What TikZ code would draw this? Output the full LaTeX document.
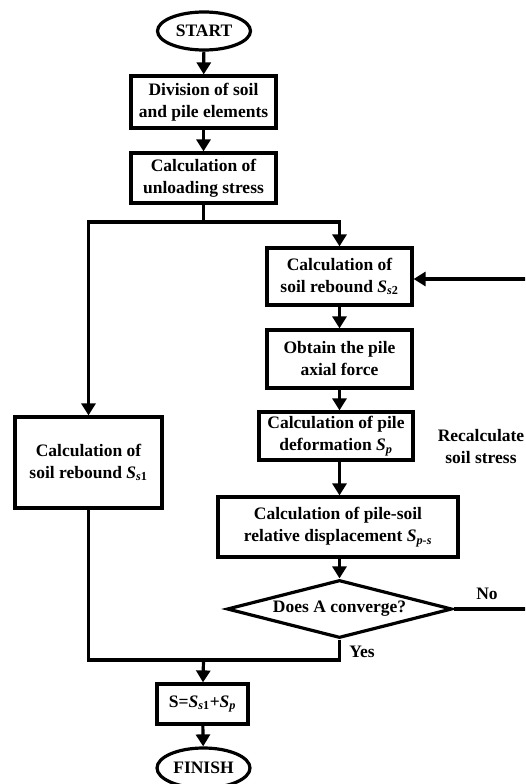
\documentclass[tikz,border=0pt]{standalone}
\usepackage{fontspec}
\setmainfont{Liberation Serif}
\usetikzlibrary{shapes.geometric,arrows.meta}
\newcommand\flowfont{\bfseries\fontsize{17.5}{22}\selectfont}
\begin{document}
\begin{tikzpicture}[x=1pt,y=-1pt,
  box/.style={draw,line width=3.2pt,rectangle,align=center,inner sep=0pt,font=\flowfont},
  term/.style={draw,line width=3.2pt,ellipse,inner sep=0pt,font=\flowfont},
  dec/.style={draw,line width=3.2pt,diamond,aspect=3.88,inner sep=0pt,font=\flowfont},
  lbl/.style={font=\flowfont,align=center,inner sep=0pt},
  conn/.style={line width=3.2pt},
  arr/.style={conn,-{Triangle[width=14pt,length=12pt]}}]
\useasboundingbox (0,0) rectangle (525,784);
\clip (0,0) rectangle (525,784);
\node[term,minimum width=93pt,minimum height=38pt] (start) at (204,31) {START};
\node[box,minimum width=145pt,minimum height=52pt] (div) at (203.5,102) {Division of soil\\and pile elements};
\node[box,minimum width=145pt,minimum height=50pt] (unl) at (203.5,178) {Calculation of\\unloading stress};
\coordinate (split) at (203.5,222);
\node[box,minimum width=145pt,minimum height=57pt] (ss2) at (339.5,276.5) {Calculation of\\soil rebound \textit{S}\textsubscript{\textit{s}2}};
\node[box,minimum width=145pt,minimum height=58pt] (obt) at (339.5,359) {Obtain the pile\\axial force};
\node[box,minimum width=154pt,minimum height=48pt] (sp) at (336,436) {Calculation of pile\\deformation \textit{S}\textsubscript{\textit{p}}};
\node[box,minimum width=240pt,minimum height=60pt] (ps) at (338,527) {Calculation of pile-soil\\relative displacement \textit{S}\textsubscript{\textit{p-s}}};
\node[dec,minimum width=225pt,minimum height=58pt] (dia) at (339.5,609) {Does A converge?};
\node[box,minimum width=147pt,minimum height=91pt] (ss1) at (88.5,462.5) {Calculation of\\soil rebound \textit{S}\textsubscript{\textit{s}1}};
\node[box,minimum width=91pt,minimum height=40pt] (sum) at (202.5,704) {S=\textit{S}\textsubscript{\textit{s}1}+\textit{S}\textsubscript{\textit{p}}};
\node[term,minimum width=93pt,minimum height=40pt] (fin) at (203.5,768) {FINISH};
\node[lbl] (recalc) at (481,447) {Recalculate\\soil stress};
\node[lbl] (no) at (487,594) {No};
\node[lbl] (yes) at (362,652) {Yes};
\coordinate (join) at (203.5,660);
\coordinate (loopA) at (529,609);
\coordinate (loopB) at (529,279);
\draw[arr] (start) -- (div);
\draw[arr] (div) -- (unl);
\draw[conn] (unl.south) -- (split);
\draw[arr] (split) -| (ss1.north);
\draw[arr] (split) -| (ss2.north);
\draw[arr] (ss2) -- (obt);
\draw[arr] (obt.south) -- (obt.south |- sp.north);
\draw[arr] (obt.south |- sp.south) -- (obt.south |- ps.north);
\draw[arr] (ps.south -| dia.north) -- (dia.north);
\draw[conn] (dia.south) |- (join);
\draw[conn] (ss1.south) |- (join);
\draw[arr] (join) -- (sum);
\draw[arr] (sum) -- (fin);
\draw[arr] (dia.east) -- (loopA) -- (loopB) -- (ss2.east |- loopB);
\end{tikzpicture}
\end{document}
